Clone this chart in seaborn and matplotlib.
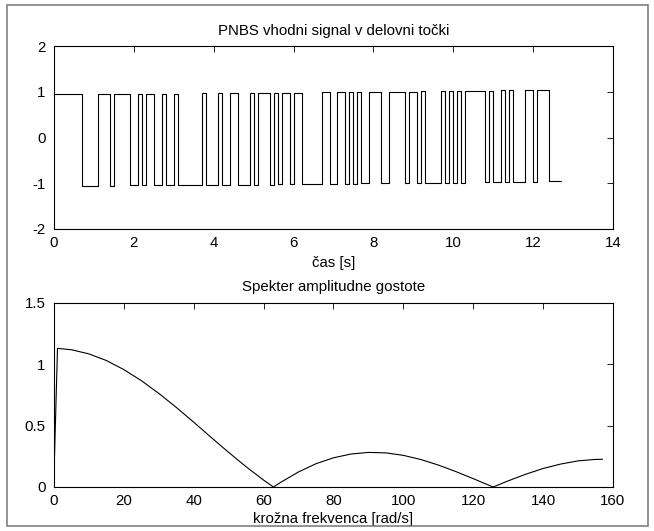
import numpy as np
import pandas as pd
import matplotlib
matplotlib.use("Agg")
import matplotlib.pyplot as plt
import seaborn as sns
from matplotlib import font_manager
from matplotlib.patches import Rectangle

# ---------------- data ----------------
bit_time = 0.1  # s, one PRBS bit
# alternating run lengths (in bits), starting with a high run
run_lengths = [7, 4, 3, 1, 4, 2, 1, 1, 2, 2, 1, 2, 1, 6, 1, 3, 1, 2, 2, 3, 1, 1,
               3, 1, 1, 1, 2, 1, 2, 5, 2, 2, 2, 1, 1, 1, 1, 2, 3, 2, 4, 1, 2, 1,
               1, 4, 1, 1, 1, 1, 1, 1, 5, 1, 1, 2, 1, 1, 1, 3, 2, 1, 3, 3]
# levels of each high / low run pair (slow drift of the operating point)
high_levels = [0.95, 0.95, 0.955, 0.96, 0.96, 0.96, 0.96, 0.965, 0.965, 0.97,
               0.97, 0.97, 0.975, 0.98, 0.98, 0.985, 0.99, 0.99, 0.995, 1.0,
               1.0, 1.005, 1.01, 1.01, 1.015, 1.015, 1.02, 1.025, 1.03, 1.03,
               1.035, 1.04]
low_levels = [-1.05, -1.05, -1.045, -1.04, -1.04, -1.04, -1.04, -1.035, -1.035,
              -1.03, -1.03, -1.03, -1.025, -1.02, -1.02, -1.015, -1.01, -1.01,
              -1.005, -1.0, -1.0, -0.995, -0.99, -0.99, -0.985, -0.985, -0.98,
              -0.975, -0.97, -0.97, -0.965, -0.96]

freq = [0, 1, 5, 10, 15, 20, 25, 30, 35, 40, 45, 50, 55, 60, 62.8, 65, 70, 75,
        80, 85, 90, 95, 100, 105, 110, 115, 120, 125.7, 130, 135, 140, 145,
        150, 155, 157]
amp = [0.10, 1.13, 1.119, 1.085, 1.031, 0.957, 0.867, 0.763, 0.649, 0.528,
       0.404, 0.282, 0.165, 0.056, 0.0, 0.040, 0.123, 0.190, 0.238, 0.269,
       0.282, 0.278, 0.258, 0.224, 0.179, 0.126, 0.068, 0.0, 0.050, 0.104,
       0.151, 0.187, 0.213, 0.225, 0.226]

x1_ticks = [0, 2, 4, 6, 8, 10, 12, 14]
y1_ticks = [-2, -1, 0, 1, 2]
x2_ticks = [0, 20, 40, 60, 80, 100, 120, 140, 160]
y2_ticks = [0, 0.5, 1, 1.5]
y2_labels = ["0", "0.5", "1", "1.5"]

# ---------------- style ----------------
sns.set_theme(style="white")
names = {f.name for f in font_manager.fontManager.ttflist}
if "Liberation Sans Narrow" in names:
    fam, fs = "Liberation Sans Narrow", 12.5
else:
    fam, fs = "Liberation Sans", 10.8
plt.rcParams.update({
    "font.family": [fam, "DejaVu Sans"],
    "font.size": fs,
    "axes.unicode_minus": False,
    "xtick.direction": "in",
    "ytick.direction": "in",
    "xtick.top": True,
    "ytick.right": True,
    "xtick.major.size": 4,
    "ytick.major.size": 4,
    "xtick.major.width": 0.6,
    "ytick.major.width": 0.6,
    "xtick.major.pad": 5,
    "ytick.major.pad": 6,
    "xtick.color": "black",
    "ytick.color": "black",
    "axes.edgecolor": "black",
    "axes.linewidth": 0.8,
    "text.color": "black",
    "axes.labelcolor": "black",
})

W, H = 654, 531
fig = plt.figure(figsize=(W / 100, H / 100), dpi=100)
fig.patch.set_facecolor("white")
ax1 = fig.add_axes([54 / W, 1 - 229 / H, 559 / W, 183 / H])
ax2 = fig.add_axes([54 / W, 1 - 487 / H, 559 / W, 184 / H])

# step signal table
times, vals = [], []
t = 0
for i, n in enumerate(run_lengths):
    lvl = high_levels[i // 2] if i % 2 == 0 else low_levels[i // 2]
    times.append(t * bit_time)
    vals.append(lvl)
    t += n
times.append(t * bit_time)
vals.append(vals[-1])
sig = pd.DataFrame({"t": times, "u": vals})

sns.lineplot(data=sig, x="t", y="u", ax=ax1, drawstyle="steps-post",
             color="black", linewidth=0.8, estimator=None, sort=False)
ax1.set_xlim(0, 14)
ax1.set_ylim(-2, 2)
ax1.set_xticks(x1_ticks)
ax1.set_yticks(y1_ticks)
ax1.set_title("PNBS vhodni signal v delovni točki", pad=8, fontsize=fs)
ax1.set_xlabel("čas [s]", labelpad=4, fontsize=fs)
ax1.set_ylabel("")

spec = pd.DataFrame({"w": freq, "A": amp})
sns.lineplot(data=spec, x="w", y="A", ax=ax2, color="black", linewidth=0.8,
             estimator=None, sort=False)
ax2.set_xlim(0, 160)
ax2.set_ylim(0, 1.5)
ax2.set_xticks(x2_ticks)
ax2.set_yticks(y2_ticks)
ax2.set_yticklabels(y2_labels)
ax2.set_title("Spekter amplitudne gostote", pad=9, fontsize=fs)
ax2.set_xlabel("krožna frekvenca [rad/s]", labelpad=3, fontsize=fs)
ax2.set_ylabel("")

for ax in (ax1, ax2):
    for s in ax.spines.values():
        s.set_visible(True)
        s.set_color("black")
        s.set_linewidth(0.8)
    ax.tick_params(labelsize=fs)

fig.add_artist(Rectangle((7 / W, 1 - 526 / H), (648 - 7) / W, (526 - 5) / H,
                         transform=fig.transFigure, fill=False,
                         edgecolor="#808080", linewidth=1.2))

fig.savefig("out.png", dpi=100)
